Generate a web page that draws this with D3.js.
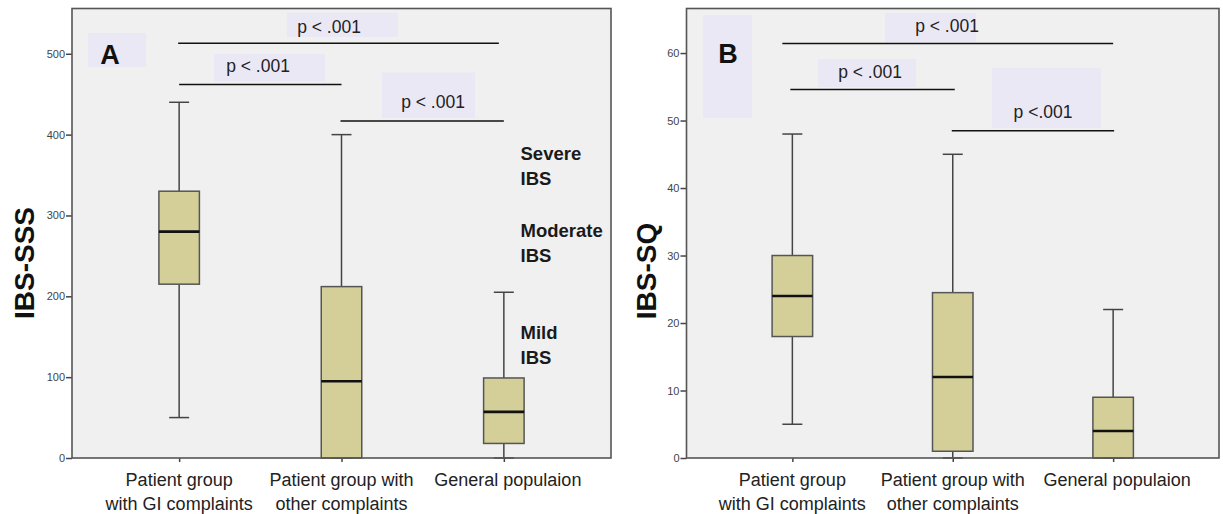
<!DOCTYPE html>
<html>
<head>
<meta charset="utf-8">
<script src="https://cdn.jsdelivr.net/npm/d3@7"></script>
<style>
  html, body { margin: 0; padding: 0; background: #fff; }
  svg { display: block; }
  text { font-family: "Liberation Sans", Arial, sans-serif; }
</style>
</head>
<body>
<svg id="chart" width="1223" height="514"></svg>
<script>
// ---------- DATA ----------
const categories = ["Patient group with GI complaints", "Patient group with other complaints", "General populaion"];
const categoryLines = [["Patient group", "with GI complaints"], ["Patient group with", "other complaints"], ["General populaion"]];

// Panel A: IBS-SSS
const sssMin    = [50, 0, 0];
const sssQ1     = [215, 0, 18];
const sssMedian = [280, 95, 57];
const sssQ3     = [330, 212, 99];
const sssMax    = [440, 400, 205];
const sssTicks  = [0, 100, 200, 300, 400, 500];
const sssSigFrom  = [0, 0, 1];
const sssSigTo    = [2, 1, 2];
const sssSigLevel = [513, 462, 417];
const sssSigText  = ["p < .001", "p < .001", "p < .001"];
const severityLines = [["Severe", "IBS"], ["Moderate", "IBS"], ["Mild", "IBS"]];

// Panel B: IBS-SQ
const sqMin    = [5, 0, 0];
const sqQ1     = [18, 1, 0];
const sqMedian = [24, 12, 4];
const sqQ3     = [30, 24.5, 9];
const sqMax    = [48, 45, 22];
const sqTicks  = [0, 10, 20, 30, 40, 50, 60];
const sqSigFrom  = [0, 0, 1];
const sqSigTo    = [2, 1, 2];
const sqSigLevel = [61.4, 54.6, 48.5];
const sqSigText  = ["p < .001", "p < .001", "p <.001"];

// ---------- DRAWING ----------
const svg = d3.select("#chart");

function panel(cfg) {
  const g = svg.append("g");
  const x = d3.scalePoint().domain(categories).range([cfg.left, cfg.right]).padding(0.66);
  const y = d3.scaleLinear().domain([0, cfg.yMax]).range([cfg.bottom, cfg.top]);

  // plot background
  g.append("rect")
    .attr("x", cfg.left).attr("y", cfg.top)
    .attr("width", cfg.right - cfg.left).attr("height", cfg.bottom - cfg.top)
    .attr("fill", "#f0f0f0");

  // annotation background patches (lavender)
  cfg.patches.forEach(p => {
    g.append("rect").attr("x", p[0]).attr("y", p[1]).attr("width", p[2] - p[0]).attr("height", p[3] - p[1])
      .attr("fill", "#ebe8f6");
  });

  // y axis
  const ya = g.append("g").attr("transform", `translate(${cfg.left},0)`)
    .call(d3.axisLeft(y).tickValues(cfg.ticks).tickSize(6).tickPadding(1).tickFormat(d3.format("d")));
  ya.select(".domain").remove();
  ya.selectAll(".tick line").attr("stroke", "#444").attr("stroke-width", 1.5);
  ya.selectAll(".tick text").attr("fill", "#444").style("font-size", "11px")
    .style("font-family", "'Liberation Sans', Arial, sans-serif");

  // x axis ticks
  const xa = g.append("g").attr("transform", `translate(0,${cfg.bottom})`)
    .call(d3.axisBottom(x).tickSize(4).tickFormat(""));
  xa.select(".domain").remove();
  xa.selectAll(".tick line").attr("stroke", "#444").attr("stroke-width", 1.5);

  // x labels
  categories.forEach((c, i) => {
    const t = g.append("text").attr("x", x(c)).attr("y", 486)
      .attr("text-anchor", "middle").attr("fill", "#222").style("font-size", "18px");
    categoryLines[i].forEach((ln, j) => {
      t.append("tspan").attr("x", x(c) + (i === 2 ? 4 : 0)).attr("dy", j === 0 ? 0 : 23.5).text(ln);
    });
  });

  // boxes
  const bw = 40.5, cw = 20;
  categories.forEach((c, i) => {
    const cx = x(c);
    const w = g.append("g");
    // whiskers
    w.append("line").attr("x1", cx).attr("x2", cx).attr("y1", y(cfg.max[i])).attr("y2", y(cfg.q3[i]))
      .attr("stroke", "#444").attr("stroke-width", 1.5);
    w.append("line").attr("x1", cx).attr("x2", cx).attr("y1", y(cfg.min[i])).attr("y2", y(cfg.q1[i]))
      .attr("stroke", "#444").attr("stroke-width", 1.5);
    w.append("line").attr("x1", cx - cw / 2).attr("x2", cx + cw / 2).attr("y1", y(cfg.max[i])).attr("y2", y(cfg.max[i]))
      .attr("stroke", "#444").attr("stroke-width", 1.5);
    w.append("line").attr("x1", cx - cw / 2).attr("x2", cx + cw / 2).attr("y1", y(cfg.min[i])).attr("y2", y(cfg.min[i]))
      .attr("stroke", "#444").attr("stroke-width", 1.5);
    // box
    w.append("rect").attr("x", cx - bw / 2).attr("width", bw)
      .attr("y", y(cfg.q3[i])).attr("height", y(cfg.q1[i]) - y(cfg.q3[i]))
      .attr("fill", "#d4cf99").attr("stroke", "#555").attr("stroke-width", 1.5);
    // median
    w.append("line").attr("x1", cx - bw / 2).attr("x2", cx + bw / 2)
      .attr("y1", y(cfg.median[i])).attr("y2", y(cfg.median[i]))
      .attr("stroke", "#111").attr("stroke-width", 2.6);
  });

  // frame
  g.append("rect")
    .attr("x", cfg.left).attr("y", cfg.top)
    .attr("width", cfg.right - cfg.left).attr("height", cfg.bottom - cfg.top)
    .attr("fill", "none").attr("stroke", "#555").attr("stroke-width", 1.6);

  // significance lines
  cfg.sigFrom.forEach((f, i) => {
    const x1 = x(categories[f]) + cfg.sigAdj[i][0];
    const x2 = x(categories[cfg.sigTo[i]]) + cfg.sigAdj[i][1];
    g.append("line").attr("x1", x1).attr("x2", x2)
      .attr("y1", y(cfg.sigLevel[i])).attr("y2", y(cfg.sigLevel[i]))
      .attr("stroke", "#111").attr("stroke-width", 1.5);
    g.append("text").attr("x", cfg.sigTextPos[i][0]).attr("y", cfg.sigTextPos[i][1])
      .attr("text-anchor", "middle").attr("fill", "#222").style("font-size", "17.5px")
      .text(cfg.sigText[i]);
  });

  // panel letter
  g.append("text").attr("x", cfg.letterPos[0]).attr("y", cfg.letterPos[1])
    .attr("text-anchor", "middle").attr("fill", "#111").style("font-size", "27px").style("font-weight", "bold")
    .text(cfg.letter);

  // y title
  g.append("text").attr("transform", `translate(${cfg.titleX},${cfg.titleY}) rotate(-90)`)
    .attr("text-anchor", "middle").attr("fill", "#111").style("font-size", "28px").style("font-weight", "bold")
    .text(cfg.title);

  return { g, x, y };
}

const A = panel({
  left: 72, right: 611, top: 8.5, bottom: 458, yMax: 556,
  ticks: sssTicks, min: sssMin, q1: sssQ1, median: sssMedian, q3: sssQ3, max: sssMax,
  sigFrom: sssSigFrom, sigTo: sssSigTo, sigLevel: sssSigLevel, sigText: sssSigText,
  sigAdj: [[-1, -5], [0, 0], [-1, 0]],
  sigTextPos: [[329, 33], [258, 72], [433, 107.5]],
  patches: [[287, 12.5, 398, 37], [214, 54, 325, 81.5], [382, 72.5, 475, 118], [88, 33, 146, 67]],
  letter: "A", letterPos: [110, 64],
  title: "IBS-SSS", titleX: 34, titleY: 263
});

const B = panel({
  left: 686.5, right: 1219, top: 8.5, bottom: 458, yMax: 66.6,
  ticks: sqTicks, min: sqMin, q1: sqQ1, median: sqMedian, q3: sqQ3, max: sqMax,
  sigFrom: sqSigFrom, sigTo: sqSigTo, sigLevel: sqSigLevel, sigText: sqSigText,
  sigAdj: [[-10, 0], [-2, 2], [-1, 1]],
  sigTextPos: [[947, 31.5], [870, 78], [1043, 118]],
  patches: [[885, 13, 976, 42], [818, 59, 916, 87], [992, 68, 1101, 128], [703, 15, 752, 118]],
  letter: "B", letterPos: [728, 63],
  title: "IBS-SQ", titleX: 656, titleY: 271
});

// severity labels in panel A
const sevBaselines = [160, 237, 339];
severityLines.forEach((lines, i) => {
  const t = A.g.append("text").attr("x", 520.5).attr("y", sevBaselines[i])
    .attr("fill", "#1a1a1a").style("font-size", "18.5px").style("font-weight", "bold");
  lines.forEach((ln, j) => t.append("tspan").attr("x", 520.5).attr("dy", j === 0 ? 0 : 25).text(ln));
});
</script>
</body>
</html>
